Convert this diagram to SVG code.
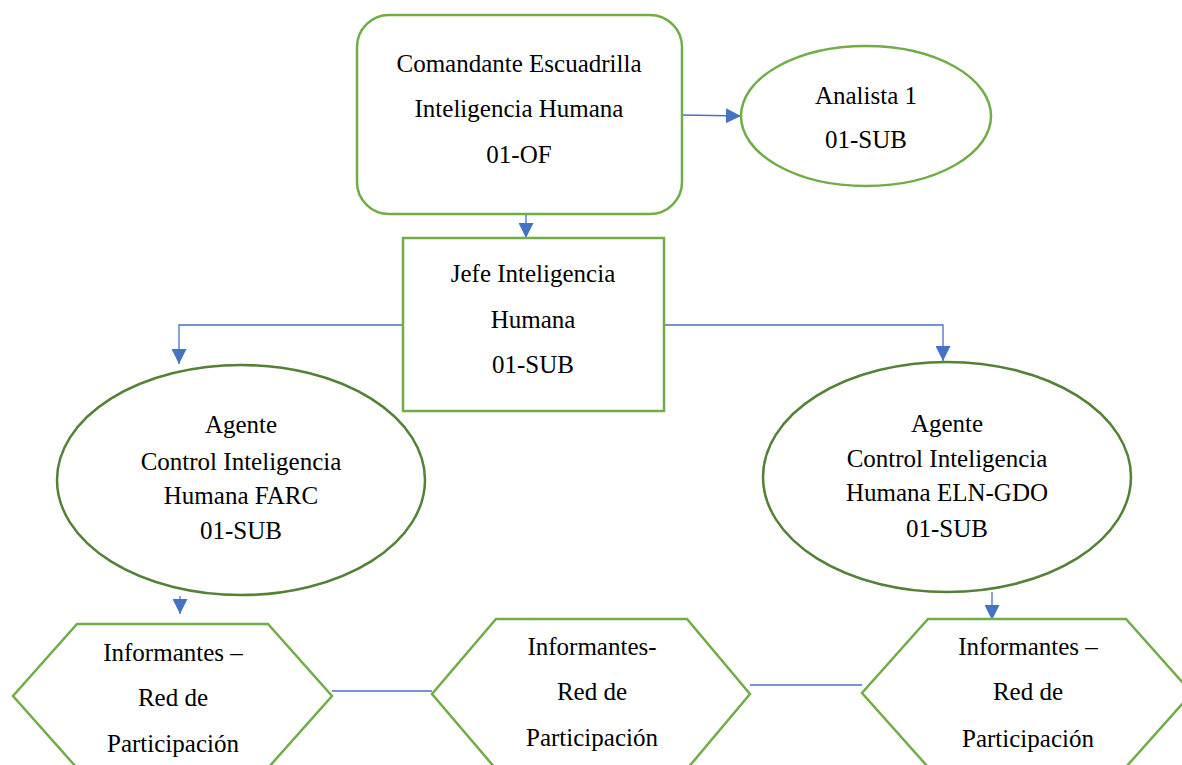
<svg xmlns="http://www.w3.org/2000/svg" width="1182" height="765" viewBox="0 0 1182 765">
<style>
.n{fill:#fff;stroke:#70AD47;stroke-width:2.5}
.d{fill:#fff;stroke:#538135;stroke-width:2.5}
.t{font-family:"Liberation Serif","Times New Roman",serif;font-size:25px;fill:#000;text-anchor:middle}
.c{fill:none;stroke:#4472C4;stroke-width:1.3}
</style>
<defs>
<marker id="a" markerWidth="15" markerHeight="15" refX="10" refY="5" orient="auto" markerUnits="userSpaceOnUse" viewBox="0 0 10 10">
<path d="M0,0 L10,5 L0,10 z" fill="#4472C4"/>
</marker>
</defs>
<rect width="1182" height="765" fill="#fff"/>
<g id="connectors">
<path class="c" d="M682,115 L741,116" marker-end="url(#a)"/>
<path class="c" d="M526,214 L526,238" marker-end="url(#a)"/>
<path class="c" d="M403,325 L179,325 L179,364" marker-end="url(#a)"/>
<path class="c" d="M664,325 L943,325 L943,361" marker-end="url(#a)"/>
<path class="c" d="M180,596 L180,614" marker-end="url(#a)"/>
<path class="c" d="M992,592 L992,620" marker-end="url(#a)"/>
<path class="c" d="M332,691 L432,691"/>
<path class="c" d="M750,685 L862,685"/>
</g>
<g id="comandante">
<rect class="n" x="357" y="15" width="325" height="199" rx="32"/>
<text class="t" x="519" y="72">Comandante Escuadrilla</text>
<text class="t" x="519" y="117">Inteligencia Humana</text>
<text class="t" x="519" y="163">01-OF</text>
</g>
<g id="analista">
<ellipse class="n" cx="866" cy="116" rx="125" ry="70"/>
<text class="t" x="866" y="104">Analista 1</text>
<text class="t" x="866" y="148">01-SUB</text>
</g>
<g id="jefe">
<rect class="n" x="403" y="238" width="261" height="173"/>
<text class="t" x="533" y="282">Jefe Inteligencia</text>
<text class="t" x="533" y="328">Humana</text>
<text class="t" x="533" y="373">01-SUB</text>
</g>
<g id="agente-farc">
<ellipse class="d" cx="241" cy="480" rx="184" ry="115"/>
<text class="t" x="241" y="433">Agente</text>
<text class="t" x="241" y="470">Control Inteligencia</text>
<text class="t" x="241" y="504">Humana FARC</text>
<text class="t" x="241" y="539">01-SUB</text>
</g>
<g id="agente-eln">
<ellipse class="d" cx="947" cy="477" rx="184" ry="115"/>
<text class="t" x="947" y="432">Agente</text>
<text class="t" x="947" y="467">Control Inteligencia</text>
<text class="t" x="947" y="501">Humana ELN-GDO</text>
<text class="t" x="947" y="537">01-SUB</text>
</g>
<g id="informantes-1">
<polygon class="n" points="77,624 268,624 332,696 268,768 77,768 13,696"/>
<text class="t" x="173" y="661">Informantes –</text>
<text class="t" x="173" y="706">Red de</text>
<text class="t" x="173" y="752">Participación</text>
</g>
<g id="informantes-2">
<polygon class="n" points="496,619 687,619 750,694 687,769 496,769 432,694"/>
<text class="t" x="592" y="655">Informantes-</text>
<text class="t" x="592" y="700">Red de</text>
<text class="t" x="592" y="746">Participación</text>
</g>
<g id="informantes-3">
<polygon class="n" points="928,619 1126,619 1192,693 1126,767 928,767 862,693"/>
<text class="t" x="1028" y="655">Informantes –</text>
<text class="t" x="1028" y="700">Red de</text>
<text class="t" x="1028" y="747">Participación</text>
</g>
</svg>
